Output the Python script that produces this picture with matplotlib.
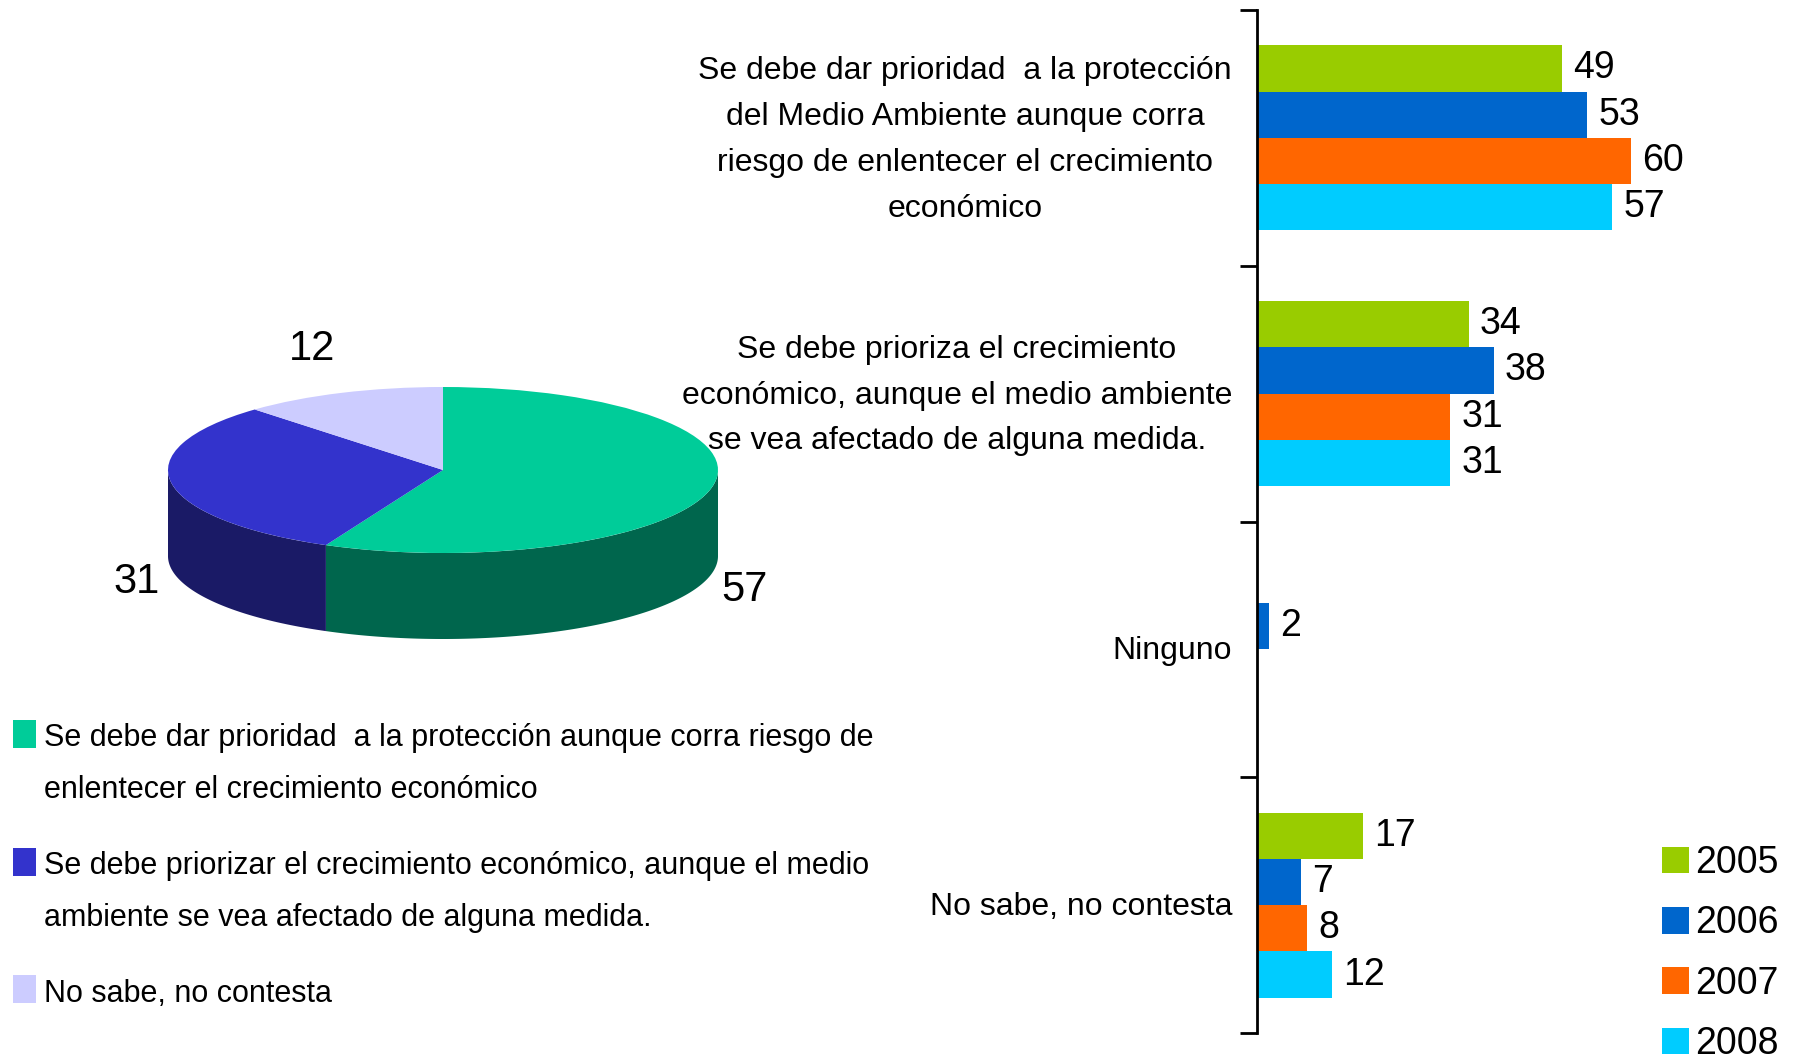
import numpy as np
import matplotlib
matplotlib.use('Agg')
import matplotlib.pyplot as plt
from matplotlib.patches import Rectangle, Polygon

plt.rcParams['font.family'] = ['Liberation Sans Narrow', 'Liberation Sans', 'DejaVu Sans']

# ---------------- data ----------------
categories = [
    "Se debe dar prioridad  a la protección\ndel Medio Ambiente aunque corra\nriesgo de enlentecer el crecimiento\neconómico",
    "Se debe prioriza el crecimiento\neconómico, aunque el medio ambiente\nse vea afectado de alguna medida.",
    "Ninguno",
    "No sabe, no contesta",
]
years = ["2005", "2006", "2007", "2008"]
v2005 = [49, 34, np.nan, 17]
v2006 = [53, 38, 2, 7]
v2007 = [60, 31, np.nan, 8]
v2008 = [57, 31, np.nan, 12]
bar_colors = ["#99CC00", "#0066CC", "#FF6600", "#00CCFF"]

pie_labels = [
    "Se debe dar prioridad  a la protección aunque corra riesgo de\nenlentecer el crecimiento económico",
    "Se debe priorizar el crecimiento económico, aunque el medio\nambiente se vea afectado de alguna medida.",
    "No sabe, no contesta",
]
pie_values = [57, 31, 12]
pie_colors = ["#00CC99", "#3333CC", "#CCCCFF"]
pie_side_colors = ["#00664D", "#1A1A66", "#666680"]

# ---------------- layout ----------------
W, H = 1795, 1060
fig = plt.figure(figsize=(W / 100, H / 100), dpi=100)
fig.patch.set_facecolor("white")
PT = 0.72  # points per pixel at dpi 100


def fr(x0, y0, x1, y1):
    """pixel box (origin top-left) -> figure fraction rect"""
    return [x0 / W, 1 - y1 / H, (x1 - x0) / W, (y1 - y0) / H]


# ---------------- bar chart ----------------
px_per_unit = 6.23
ax = fig.add_axes(fr(1257, 10, 1795, 1033))
n = len(categories)
y = np.arange(n)
h = 0.181
series = [v2005, v2006, v2007, v2008]
for j, (vals, col, yr) in enumerate(zip(series, bar_colors, years)):
    cont = ax.barh(y + (j - 1.5) * h, vals, height=h, color=col, label=yr, linewidth=0)
    labs = ["" if np.isnan(v) else f"{v:g}" for v in vals]
    ax.bar_label(cont, labels=labs, padding=8, fontsize=27)

ax.set_ylim(n - 0.5, -0.5)
ax.set_xlim(0, 538 / px_per_unit)
ax.set_xticks([])
ax.set_yticks(np.arange(n + 1) - 0.5)
ax.set_yticklabels([])
ax.tick_params(axis="y", which="major", length=12, width=2, direction="out", color="black")
for s in ["top", "right", "bottom"]:
    ax.spines[s].set_visible(False)
ax.spines["left"].set_linewidth(2)
ax.patch.set_alpha(0)

# category labels, right-aligned next to the axis, lines centred
for yi, cat in zip(y, categories):
    ax.annotate(cat, xy=(0, yi), xycoords=ax.get_yaxis_transform(),
                xytext=(-25 * PT, -2 * PT), textcoords="offset points",
                ha="right", va="center", multialignment="center",
                fontsize=23, linespacing=1.69, annotation_clip=False)

fs_leg = 27
fpx = fs_leg * 100 / 72
ax.legend(loc="upper left", bbox_to_anchor=(1662 / W, 1 - 845 / H),
          bbox_transform=fig.transFigure, frameon=False, fontsize=fs_leg,
          handlelength=27 / fpx, handleheight=27 / fpx, handletextpad=0.17,
          labelspacing=0.65, borderpad=0, borderaxespad=0)

# ---------------- 3D-look pie ----------------
rx_px, ry_px, depth_px = 275, 83, 86
cx, cy = 443, 470
axp = fig.add_axes(fr(cx - 1.6 * rx_px, cy - 1.2 * ry_px, cx + 1.6 * rx_px, cy + 2.4 * ry_px))
wedges, _ = axp.pie(pie_values, colors=pie_colors, startangle=90, counterclock=False,
                    radius=1, wedgeprops=dict(linewidth=0))
axp.set_aspect("auto")
axp.set_xlim(-1.6, 1.6)
axp.set_ylim(-2.4, 1.2)
axp.axis("off")
d = depth_px / ry_px

for w, sc in zip(wedges, pie_side_colors):
    t1, t2 = w.theta1, w.theta2
    for lo, hi in [(-180, 0), (180, 360), (-540, -360)]:
        a, b = max(t1, lo), min(t2, hi)
        if b > a:
            th = np.radians(np.linspace(a, b, 200))
            top = np.column_stack([np.cos(th), np.sin(th)])
            bot = np.column_stack([np.cos(th), np.sin(th) - d])[::-1]
            axp.add_patch(Polygon(np.vstack([top, bot]), closed=True, facecolor=sc,
                                  edgecolor="none", zorder=0.5))

# value labels around the pie (offsets in pixels: right, down)
label_offsets = [(33, 16), (-35, 13), (-30, -44)]
for w, v, (ox, oy) in zip(wedges, pie_values, label_offsets):
    mid = np.radians((w.theta1 + w.theta2) / 2)
    ex, ey = np.cos(mid), np.sin(mid)
    if ey < 0:
        ey -= d
    axp.annotate(f"{v}", xy=(ex, ey), xytext=(ox * PT, -oy * PT),
                 textcoords="offset points", ha="center", va="center", fontsize=30)

# pie legend (manual, matching the original layout)
leg_baselines = [747, 875, 1002]
line_step = 51
for lab, col, yb in zip(pie_labels, pie_colors, leg_baselines):
    fig.add_artist(Rectangle((13 / W, 1 - (yb + 1) / H), 23 / W, 28 / H,
                             transform=fig.transFigure, facecolor=col, edgecolor="none"))
    ylast = yb + (lab.count("\n")) * line_step
    fig.text(44 / W, 1 - ylast / H, lab, ha="left", va="baseline", fontsize=22,
             linespacing=1.94)

fig.savefig("out.png", dpi=100)
